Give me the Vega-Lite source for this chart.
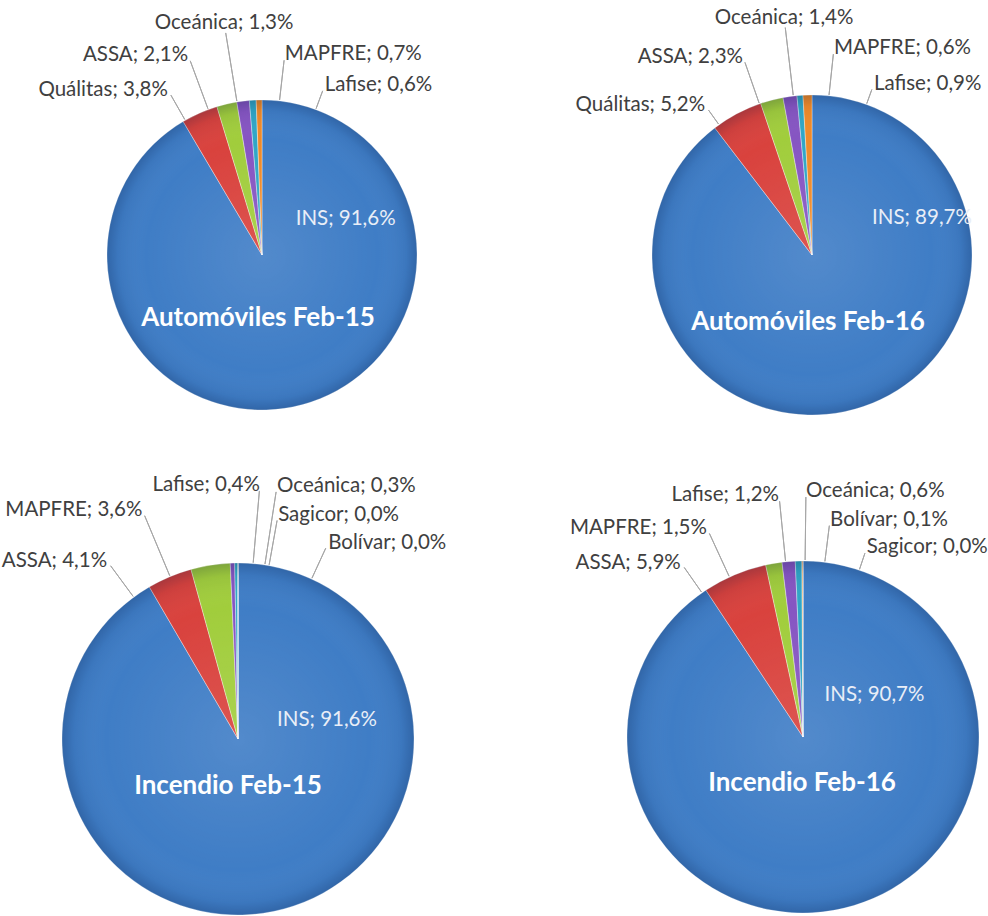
{
  "$schema": "https://vega.github.io/schema/vega-lite/v6.json",
  "padding": 0,
  "background": "white",
  "bounds": "flush",
  "align": "none",
  "columns": 2,
  "spacing": {"row": 52, "column": 142},
  "config": {"view": {"stroke": null}, "font": "Lato"},
  "data": {"values": [
    {"chart": "Automóviles Feb-15", "company": "INS", "share": 91.6, "rank": 1},
    {"chart": "Automóviles Feb-15", "company": "Quálitas", "share": 3.8, "rank": 2},
    {"chart": "Automóviles Feb-15", "company": "ASSA", "share": 2.1, "rank": 3},
    {"chart": "Automóviles Feb-15", "company": "Oceánica", "share": 1.3, "rank": 4},
    {"chart": "Automóviles Feb-15", "company": "MAPFRE", "share": 0.7, "rank": 5},
    {"chart": "Automóviles Feb-15", "company": "Lafise", "share": 0.6, "rank": 6},
    {"chart": "Automóviles Feb-16", "company": "INS", "share": 89.7, "rank": 1},
    {"chart": "Automóviles Feb-16", "company": "Quálitas", "share": 5.2, "rank": 2},
    {"chart": "Automóviles Feb-16", "company": "ASSA", "share": 2.3, "rank": 3},
    {"chart": "Automóviles Feb-16", "company": "Oceánica", "share": 1.4, "rank": 4},
    {"chart": "Automóviles Feb-16", "company": "MAPFRE", "share": 0.6, "rank": 5},
    {"chart": "Automóviles Feb-16", "company": "Lafise", "share": 0.9, "rank": 6},
    {"chart": "Incendio Feb-15", "company": "INS", "share": 91.6, "rank": 1},
    {"chart": "Incendio Feb-15", "company": "ASSA", "share": 4.1, "rank": 2},
    {"chart": "Incendio Feb-15", "company": "MAPFRE", "share": 3.6, "rank": 3},
    {"chart": "Incendio Feb-15", "company": "Lafise", "share": 0.4, "rank": 4},
    {"chart": "Incendio Feb-15", "company": "Oceánica", "share": 0.3, "rank": 5},
    {"chart": "Incendio Feb-15", "company": "Sagicor", "share": 0.0, "rank": 6},
    {"chart": "Incendio Feb-15", "company": "Bolívar", "share": 0.0, "rank": 7},
    {"chart": "Incendio Feb-16", "company": "INS", "share": 90.7, "rank": 1},
    {"chart": "Incendio Feb-16", "company": "ASSA", "share": 5.9, "rank": 2},
    {"chart": "Incendio Feb-16", "company": "MAPFRE", "share": 1.5, "rank": 3},
    {"chart": "Incendio Feb-16", "company": "Lafise", "share": 1.2, "rank": 4},
    {"chart": "Incendio Feb-16", "company": "Oceánica", "share": 0.6, "rank": 5},
    {"chart": "Incendio Feb-16", "company": "Bolívar", "share": 0.1, "rank": 6},
    {"chart": "Incendio Feb-16", "company": "Sagicor", "share": 0.0, "rank": 7}
  ]},
  "concat": [
    {
      "width": 524, "height": 510,
      "transform": [{"filter": "datum.chart === 'Automóviles Feb-15'"}],
      "resolve": {"scale": {"theta": "independent", "radius": "independent"}},
      "layer": [
        {"mark": {"type": "arc", "radius": 155, "stroke": "#ffffff", "strokeWidth": 0.6, "strokeOpacity": 0.6},
         "encoding": {
           "theta": {"field": "share", "type": "quantitative", "stack": true},
           "order": {"field": "rank", "type": "quantitative", "sort": "ascending"},
           "color": {"field": "rank", "type": "ordinal", "scale": {"domain": [1,2,3,4,5,6,7], "range": ["#3f7dc6","#d9423d","#a1cd3c","#8655c2","#30a6c6","#f08a28","#2c4d75"]}, "legend": null}
         }},
        {"transform": [{"filter": "datum.rank == 1"}],
         "mark": {"type": "arc", "radius": 155, "theta": 0, "theta2": 6.2832,
           "fill": {"gradient": "radial", "x1": 0.5, "y1": 0.5, "x2": 0.5, "y2": 0.5, "r1": 0, "r2": 0.5,
             "stops": [{"offset": 0, "color": "rgba(255,255,255,0.10)"}, {"offset": 0.75, "color": "rgba(255,255,255,0)"}, {"offset": 0.93, "color": "rgba(0,20,60,0.06)"}, {"offset": 1, "color": "rgba(0,20,60,0.22)"}]}},
         "encoding": {}},
        {"transform": [{"filter": "datum.rank > 1"}],
         "mark": {"type": "arc", "fillOpacity": 0, "stroke": "#a6a6a6", "strokeWidth": 1},
         "encoding": {
           "theta": {"field": "rank", "type": "quantitative", "stack": null, "scale": {"domain": [2,3,4,5,6], "range": [-0.518,-0.354,-0.162,0.113,0.354], "zero": false, "nice": false}},
           "theta2": {"field": "rank"},
           "radius": {"field": "rank", "type": "quantitative", "scale": {"type": "linear", "domain": [2,3,4,5,6], "range": [184,207,225,196,175], "zero": false, "nice": false}},
           "radius2": {"value": 156}
         }},
        {"transform": [{"calculate": "datum.company + '; ' + replace(format(datum.share, '.1f'), '.', ',') + '%'", "as": "label"}],
         "mark": {"type": "text", "font": "Lato", "fontSize": 20.5, "baseline": "middle",
           "align": {"expr": "datum.rank == 1 || datum.rank == 4 ? 'center' : (datum.rank < 4 ? 'right' : 'left')"},
           "fill": {"expr": "datum.rank == 1 ? '#e9eef7' : '#404040'"}},
         "encoding": {
           "theta": {"field": "rank", "type": "quantitative", "stack": null, "scale": {"domain": [1,2,3,4,5,6], "range": [1.166,-0.518,-0.354,-0.162,0.113,0.354], "zero": false, "nice": false}},
           "radius": {"field": "rank", "type": "quantitative", "scale": {"type": "linear", "domain": [1,2,3,4,5,6], "range": [91,190,213,235,202,181], "zero": false, "nice": false}},
           "text": {"field": "label"}
         }},
        {"transform": [{"filter": "datum.rank == 1"}],
         "mark": {"type": "text", "font": "Lato", "fontWeight": "bold", "fontSize": 26, "fill": "#ffffff", "dx": -4, "dy": 63, "align": "center", "baseline": "middle"},
         "encoding": {"text": {"field": "chart"}}}
      ]
    },
    {
      "width": 292, "height": 510,
      "transform": [{"filter": "datum.chart === 'Automóviles Feb-16'"}],
      "resolve": {"scale": {"theta": "independent", "radius": "independent"}},
      "layer": [
        {"mark": {"type": "arc", "radius": 160, "stroke": "#ffffff", "strokeWidth": 0.6, "strokeOpacity": 0.6},
         "encoding": {
           "theta": {"field": "share", "type": "quantitative", "stack": true},
           "order": {"field": "rank", "type": "quantitative", "sort": "ascending"},
           "color": {"field": "rank", "type": "ordinal", "scale": {"domain": [1,2,3,4,5,6,7], "range": ["#3f7dc6","#d9423d","#a1cd3c","#8655c2","#30a6c6","#f08a28","#2c4d75"]}, "legend": null}
         }},
        {"transform": [{"filter": "datum.rank == 1"}],
         "mark": {"type": "arc", "radius": 160, "theta": 0, "theta2": 6.2832,
           "fill": {"gradient": "radial", "x1": 0.5, "y1": 0.5, "x2": 0.5, "y2": 0.5, "r1": 0, "r2": 0.5,
             "stops": [{"offset": 0, "color": "rgba(255,255,255,0.10)"}, {"offset": 0.75, "color": "rgba(255,255,255,0)"}, {"offset": 0.93, "color": "rgba(0,20,60,0.06)"}, {"offset": 1, "color": "rgba(0,20,60,0.22)"}]}},
         "encoding": {}},
        {"transform": [{"filter": "datum.rank > 1"}],
         "mark": {"type": "arc", "fillOpacity": 0, "stroke": "#a6a6a6", "strokeWidth": 1},
         "encoding": {
           "theta": {"field": "rank", "type": "quantitative", "stack": null, "scale": {"domain": [2,3,4,5,6], "range": [-0.620,-0.335,-0.117,0.106,0.347], "zero": false, "nice": false}},
           "theta2": {"field": "rank"},
           "radius": {"field": "rank", "type": "quantitative", "scale": {"type": "linear", "domain": [2,3,4,5,6], "range": [178,204,229,202,176], "zero": false, "nice": false}},
           "radius2": {"value": 161}
         }},
        {"transform": [{"calculate": "datum.company + '; ' + replace(format(datum.share, '.1f'), '.', ',') + '%'", "as": "label"}],
         "mark": {"type": "text", "font": "Lato", "fontSize": 20.5, "baseline": "middle",
           "align": {"expr": "datum.rank == 1 || datum.rank == 4 ? 'center' : (datum.rank < 4 ? 'right' : 'left')"},
           "fill": {"expr": "datum.rank == 1 ? '#e9eef7' : '#404040'"}},
         "encoding": {
           "theta": {"field": "rank", "type": "quantitative", "stack": null, "scale": {"domain": [1,2,3,4,5,6], "range": [1.246,-0.620,-0.335,-0.117,0.106,0.347], "zero": false, "nice": false}},
           "radius": {"field": "rank", "type": "quantitative", "scale": {"type": "linear", "domain": [1,2,3,4,5,6], "range": [116,184,210,239,208,182], "zero": false, "nice": false}},
           "text": {"field": "label"}
         }},
        {"transform": [{"filter": "datum.rank == 1"}],
         "mark": {"type": "text", "font": "Lato", "fontWeight": "bold", "fontSize": 26, "fill": "#ffffff", "dx": -4, "dy": 67, "align": "center", "baseline": "middle"},
         "encoding": {"text": {"field": "chart"}}}
      ]
    },
    {
      "width": 476, "height": 354,
      "transform": [{"filter": "datum.chart === 'Incendio Feb-15'"}],
      "resolve": {"scale": {"theta": "independent", "radius": "independent"}},
      "layer": [
        {"mark": {"type": "arc", "radius": 176, "stroke": "#ffffff", "strokeWidth": 0.6, "strokeOpacity": 0.6},
         "encoding": {
           "theta": {"field": "share", "type": "quantitative", "stack": true},
           "order": {"field": "rank", "type": "quantitative", "sort": "ascending"},
           "color": {"field": "rank", "type": "ordinal", "scale": {"domain": [1,2,3,4,5,6,7], "range": ["#3f7dc6","#d9423d","#a1cd3c","#8655c2","#30a6c6","#f08a28","#2c4d75"]}, "legend": null}
         }},
        {"transform": [{"filter": "datum.rank == 1"}],
         "mark": {"type": "arc", "radius": 176, "theta": 0, "theta2": 6.2832,
           "fill": {"gradient": "radial", "x1": 0.5, "y1": 0.5, "x2": 0.5, "y2": 0.5, "r1": 0, "r2": 0.5,
             "stops": [{"offset": 0, "color": "rgba(255,255,255,0.10)"}, {"offset": 0.75, "color": "rgba(255,255,255,0)"}, {"offset": 0.93, "color": "rgba(0,20,60,0.06)"}, {"offset": 1, "color": "rgba(0,20,60,0.22)"}]}},
         "encoding": {}},
        {"transform": [{"filter": "datum.rank > 1"}],
         "mark": {"type": "arc", "fillOpacity": 0, "stroke": "#a6a6a6", "strokeWidth": 1},
         "encoding": {
           "theta": {"field": "rank", "type": "quantitative", "stack": null, "scale": {"domain": [2,3,4,5,6,7], "range": [-0.634,-0.396,0.086,0.153,0.177,0.431], "zero": false, "nice": false}},
           "theta2": {"field": "rank"},
           "radius": {"field": "rank", "type": "quantitative", "scale": {"type": "linear", "domain": [2,3,4,5,6,7], "range": [215,242,249,250,222,210], "zero": false, "nice": false}},
           "radius2": {"value": 177}
         }},
        {"transform": [{"calculate": "datum.company + '; ' + replace(format(datum.share, '.1f'), '.', ',') + '%'", "as": "label"}],
         "mark": {"type": "text", "font": "Lato", "fontSize": 20.5, "baseline": "middle",
           "align": {"expr": "datum.rank == 1 ? 'center' : (datum.rank < 5 ? 'right' : 'left')"},
           "fill": {"expr": "datum.rank == 1 ? '#e9eef7' : '#404040'"}},
         "encoding": {
           "theta": {"field": "rank", "type": "quantitative", "stack": null, "scale": {"domain": [1,2,3,4,5,6,7], "range": [1.360,-0.634,-0.396,0.086,0.153,0.177,0.431], "zero": false, "nice": false}},
           "radius": {"field": "rank", "type": "quantitative", "scale": {"type": "linear", "domain": [1,2,3,4,5,6,7], "range": [91,221,248,255,256,228,216], "zero": false, "nice": false}},
           "text": {"field": "label"}
         }},
        {"transform": [{"filter": "datum.rank == 1"}],
         "mark": {"type": "text", "font": "Lato", "fontWeight": "bold", "fontSize": 26, "fill": "#ffffff", "dx": -10, "dy": 47, "align": "center", "baseline": "middle"},
         "encoding": {"text": {"field": "chart"}}}
      ]
    },
    {
      "width": 274, "height": 350,
      "transform": [{"filter": "datum.chart === 'Incendio Feb-16'"}],
      "resolve": {"scale": {"theta": "independent", "radius": "independent"}},
      "layer": [
        {"mark": {"type": "arc", "radius": 176, "stroke": "#ffffff", "strokeWidth": 0.6, "strokeOpacity": 0.6},
         "encoding": {
           "theta": {"field": "share", "type": "quantitative", "stack": true},
           "order": {"field": "rank", "type": "quantitative", "sort": "ascending"},
           "color": {"field": "rank", "type": "ordinal", "scale": {"domain": [1,2,3,4,5,6,7], "range": ["#3f7dc6","#d9423d","#a1cd3c","#8655c2","#30a6c6","#f08a28","#2c4d75"]}, "legend": null}
         }},
        {"transform": [{"filter": "datum.rank == 1"}],
         "mark": {"type": "arc", "radius": 176, "theta": 0, "theta2": 6.2832,
           "fill": {"gradient": "radial", "x1": 0.5, "y1": 0.5, "x2": 0.5, "y2": 0.5, "r1": 0, "r2": 0.5,
             "stops": [{"offset": 0, "color": "rgba(255,255,255,0.10)"}, {"offset": 0.75, "color": "rgba(255,255,255,0)"}, {"offset": 0.93, "color": "rgba(0,20,60,0.06)"}, {"offset": 1, "color": "rgba(0,20,60,0.22)"}]}},
         "encoding": {}},
        {"transform": [{"filter": "datum.rank > 1"}],
         "mark": {"type": "arc", "fillOpacity": 0, "stroke": "#a6a6a6", "strokeWidth": 1},
         "encoding": {
           "theta": {"field": "rank", "type": "quantitative", "stack": null, "scale": {"domain": [2,3,4,5,6,7], "range": [-0.611,-0.431,-0.099,0.012,0.124,0.325], "zero": false, "nice": false}},
           "theta2": {"field": "rank"},
           "radius": {"field": "rank", "type": "quantitative", "scale": {"type": "linear", "domain": [2,3,4,5,6,7], "range": [207,224,237,240,213,194], "zero": false, "nice": false}},
           "radius2": {"value": 177}
         }},
        {"transform": [{"calculate": "datum.company + '; ' + replace(format(datum.share, '.1f'), '.', ',') + '%'", "as": "label"}],
         "mark": {"type": "text", "font": "Lato", "fontSize": 20.5, "baseline": "middle",
           "align": {"expr": "datum.rank == 1 ? 'center' : (datum.rank < 5 ? 'right' : 'left')"},
           "fill": {"expr": "datum.rank == 1 ? '#e9eef7' : '#404040'"}},
         "encoding": {
           "theta": {"field": "rank", "type": "quantitative", "stack": null, "scale": {"domain": [1,2,3,4,5,6,7], "range": [1.037,-0.611,-0.431,-0.099,0.012,0.124,0.325], "zero": false, "nice": false}},
           "radius": {"field": "rank", "type": "quantitative", "scale": {"type": "linear", "domain": [1,2,3,4,5,6,7], "range": [83,213,230,243,246,219,200], "zero": false, "nice": false}},
           "text": {"field": "label"}
         }},
        {"transform": [{"filter": "datum.rank == 1"}],
         "mark": {"type": "text", "font": "Lato", "fontWeight": "bold", "fontSize": 26, "fill": "#ffffff", "dx": -1, "dy": 46, "align": "center", "baseline": "middle"},
         "encoding": {"text": {"field": "chart"}}}
      ]
    }
  ]
}
